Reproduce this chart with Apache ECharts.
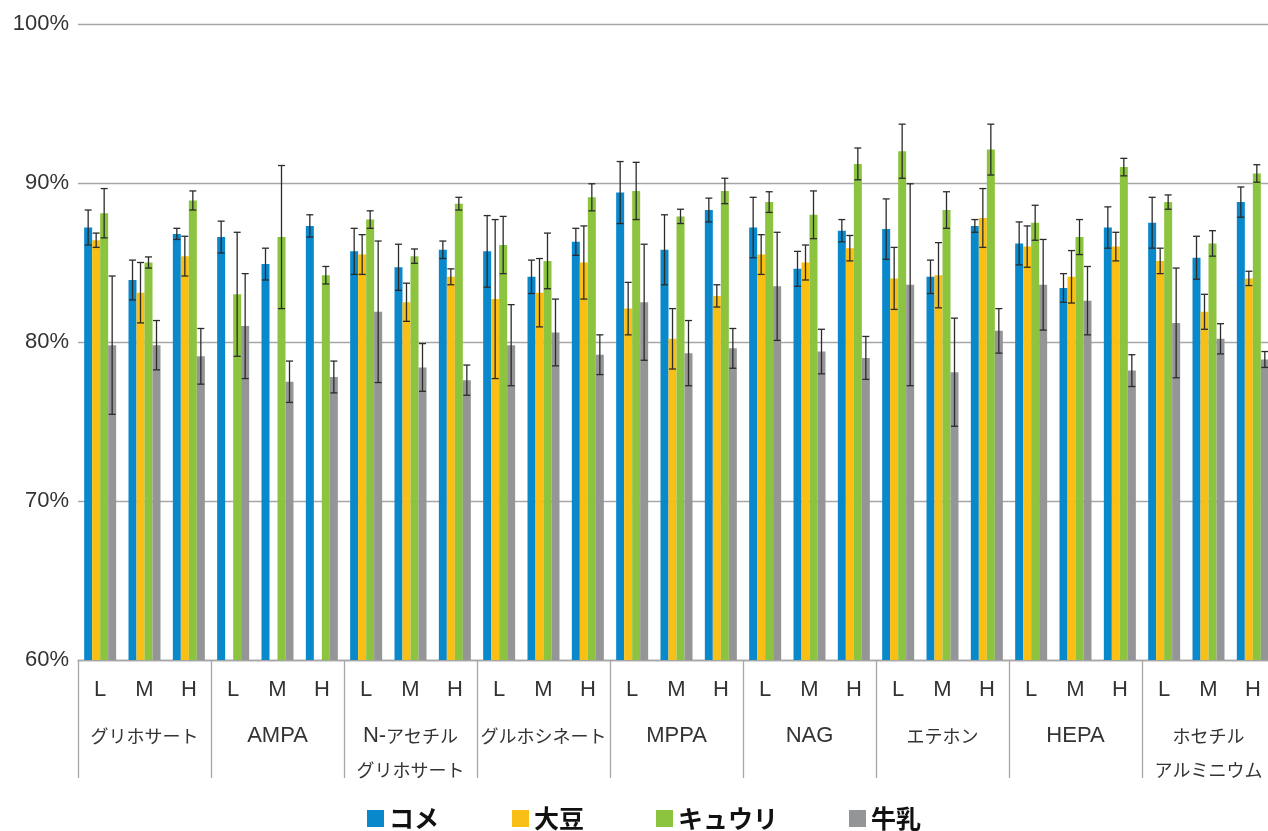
<!DOCTYPE html>
<html>
<head>
<meta charset="utf-8">
<script src="https://cdn.jsdelivr.net/npm/echarts@6/dist/echarts.min.js"></script>
<style>
html, body { margin: 0; padding: 0; background: #fff; }
#chart { width: 1268px; height: 831px; }
</style>
</head>
<body>
<div id="chart"></div>
<script>
// カテゴリ
var compounds = ['グリホサート', 'AMPA', 'N-アセチル\nグリホサート', 'グルホシネート', 'MPPA', 'NAG', 'エテホン', 'HEPA', 'ホセチル\nアルミニウム'];
var levels = ['L', 'M', 'H'];
var seriesNames = ['コメ', '大豆', 'キュウリ', '牛乳'];

// 回収率 (%) : 化合物ごとに L, M, H
var rice = [87.2, 83.9, 86.8, 86.6, 84.9, 87.3, 85.7, 84.7, 85.8, 85.7, 84.1, 86.3, 89.4, 85.8, 88.3, 87.2, 84.6, 87.0, 87.1, 84.1, 87.3, 86.2, 83.4, 87.2, 87.5, 85.3, 88.8];
var soy = [86.4, 83.1, 85.4, null, null, null, 85.5, 82.5, 84.1, 82.7, 83.1, 85.0, 82.1, 80.2, 82.9, 85.5, 85.0, 85.9, 84.0, 84.2, 87.8, 86.0, 84.1, 86.0, 85.1, 81.9, 84.0];
var cucumber = [88.1, 85.0, 88.9, 83.0, 86.6, 84.2, 87.7, 85.4, 88.7, 86.1, 85.1, 89.1, 89.5, 87.9, 89.5, 88.8, 88.0, 91.2, 92.0, 88.3, 92.1, 87.5, 86.6, 91.0, 88.8, 86.2, 90.6];
var milk = [79.8, 79.8, 79.1, 81.0, 77.5, 77.8, 81.9, 78.4, 77.6, 79.8, 80.6, 79.2, 82.5, 79.3, 79.6, 83.5, 79.4, 79.0, 83.6, 78.1, 80.7, 83.6, 82.6, 78.2, 81.2, 80.2, 78.9];

// 誤差 (±)
var riceErr = [1.1, 1.25, 0.35, 1.0, 1.0, 0.7, 1.45, 1.45, 0.55, 2.25, 1.05, 0.85, 1.95, 2.2, 0.75, 1.9, 1.1, 0.7, 1.9, 1.05, 0.4, 1.35, 0.9, 1.3, 1.6, 1.35, 0.95];
var soyErr = [0.45, 1.9, 1.25, null, null, null, 1.25, 1.2, 0.5, 5.0, 2.15, 2.3, 1.65, 1.9, 0.7, 1.25, 1.1, 0.8, 1.95, 2.05, 1.85, 1.3, 1.65, 0.9, 0.8, 1.1, 0.45];
var cucumberErr = [1.55, 0.35, 0.6, 3.9, 4.5, 0.55, 0.55, 0.45, 0.4, 1.8, 1.75, 0.85, 1.8, 0.45, 0.8, 0.65, 1.5, 1.0, 1.7, 1.15, 1.6, 1.1, 1.1, 0.55, 0.45, 0.8, 0.55];
var milkErr = [4.35, 1.55, 1.75, 3.3, 1.3, 1.0, 4.45, 1.5, 0.95, 2.55, 2.1, 1.25, 3.65, 2.05, 1.25, 3.4, 1.4, 1.35, 6.35, 3.4, 1.4, 2.85, 2.15, 1.0, 3.45, 0.95, 0.5];

var colors = ['#0a88cc', '#f9bf15', '#8cc43f', '#949597'];
var barW = 8;

var xData = [];
compounds.forEach(function () {
    levels.forEach(function (l) { xData.push(l); });
});

var myChart = echarts.init(document.getElementById('chart'));

function errorItem(offset) {
    return function (params, api) {
        var idx = api.value(0);
        var lo = api.coord([idx, api.value(1)]);
        var hi = api.coord([idx, api.value(2)]);
        var x = lo[0] + offset;
        var cap = 3.5;
        var st = { stroke: '#2b2b2b', lineWidth: 1.3 };
        return {
            type: 'group',
            children: [
                { type: 'line', shape: { x1: x, y1: lo[1], x2: x, y2: hi[1] }, style: st },
                { type: 'line', shape: { x1: x - cap, y1: lo[1], x2: x + cap, y2: lo[1] }, style: st },
                { type: 'line', shape: { x1: x - cap, y1: hi[1], x2: x + cap, y2: hi[1] }, style: st }
            ]
        };
    };
}

var values = [rice, soy, cucumber, milk];
var errors = [riceErr, soyErr, cucumberErr, milkErr];
var series = [];
values.forEach(function (vals, s) {
    series.push({
        name: seriesNames[s],
        type: 'bar',
        data: vals,
        barWidth: barW,
        barGap: '0%',
        itemStyle: { color: colors[s] },
        z: 2
    });
});
values.forEach(function (vals, s) {
    var d = [];
    vals.forEach(function (v, i) {
        if (v == null) return;
        d.push([i, v - errors[s][i], v + errors[s][i]]);
    });
    series.push({
        type: 'custom',
        renderItem: errorItem((s - 1.5) * barW),
        data: d,
        encode: { x: 0, y: [1, 2] },
        silent: true,
        z: 5
    });
});

// 凡例は項目ごとに配置
var legendLeft = [362, 507, 651, 844];
var legends = seriesNames.map(function (n, i) {
    return {
        data: [n],
        left: legendLeft[i],
        top: 801,
        itemWidth: 17,
        itemHeight: 17,
        itemGap: 6,
        icon: 'rect',
        textStyle: { fontSize: 25, fontWeight: 'bold', color: '#111', fontFamily: 'Noto Sans CJK JP' }
    };
});

var option = {
    animation: false,
    textStyle: { fontFamily: 'Liberation Sans, Noto Sans CJK JP, sans-serif' },
    grid: { left: 78, top: 24, bottom: 171, right: -7, outerBoundsMode: 'none' },
    legend: legends,
    xAxis: [{
        type: 'category',
        data: xData,
        axisLine: { lineStyle: { color: '#a6a6a6', width: 1.3 } },
        axisTick: { show: false },
        axisLabel: { fontSize: 22, color: '#333', margin: 19, interval: 0 }
    }, {
        type: 'category',
        data: compounds,
        position: 'bottom',
        axisLine: { show: false },
        axisTick: { show: true, length: 118, lineStyle: { color: '#a6a6a6', width: 1.3 } },
        axisLabel: {
            color: '#333', margin: 59, interval: 0,
            formatter: function (v) {
                return v.split('\n').map(function (line) {
                    return line.replace(/([A-Z\-]+)|([^A-Z\-]+)/g, function (m, en) {
                        return en ? '{en|' + m + '}' : '{jp|' + m + '}';
                    });
                }).join('\n');
            },
            rich: {
                en: { fontSize: 22, lineHeight: 34, fontFamily: 'Liberation Sans', color: '#333' },
                jp: { fontSize: 18, lineHeight: 34, fontFamily: 'Noto Sans CJK JP', color: '#333' }
            }
        }
    }],
    yAxis: {
        type: 'value',
        min: 60,
        max: 100,
        interval: 10,
        axisLine: { show: false },
        axisTick: { show: false },
        axisLabel: { fontSize: 22, color: '#333', margin: 9, formatter: '{value}%' },
        splitLine: { lineStyle: { color: '#a6a6a6', width: 1.3 } }
    },
    series: series
};
myChart.setOption(option);
</script>
</body>
</html>
